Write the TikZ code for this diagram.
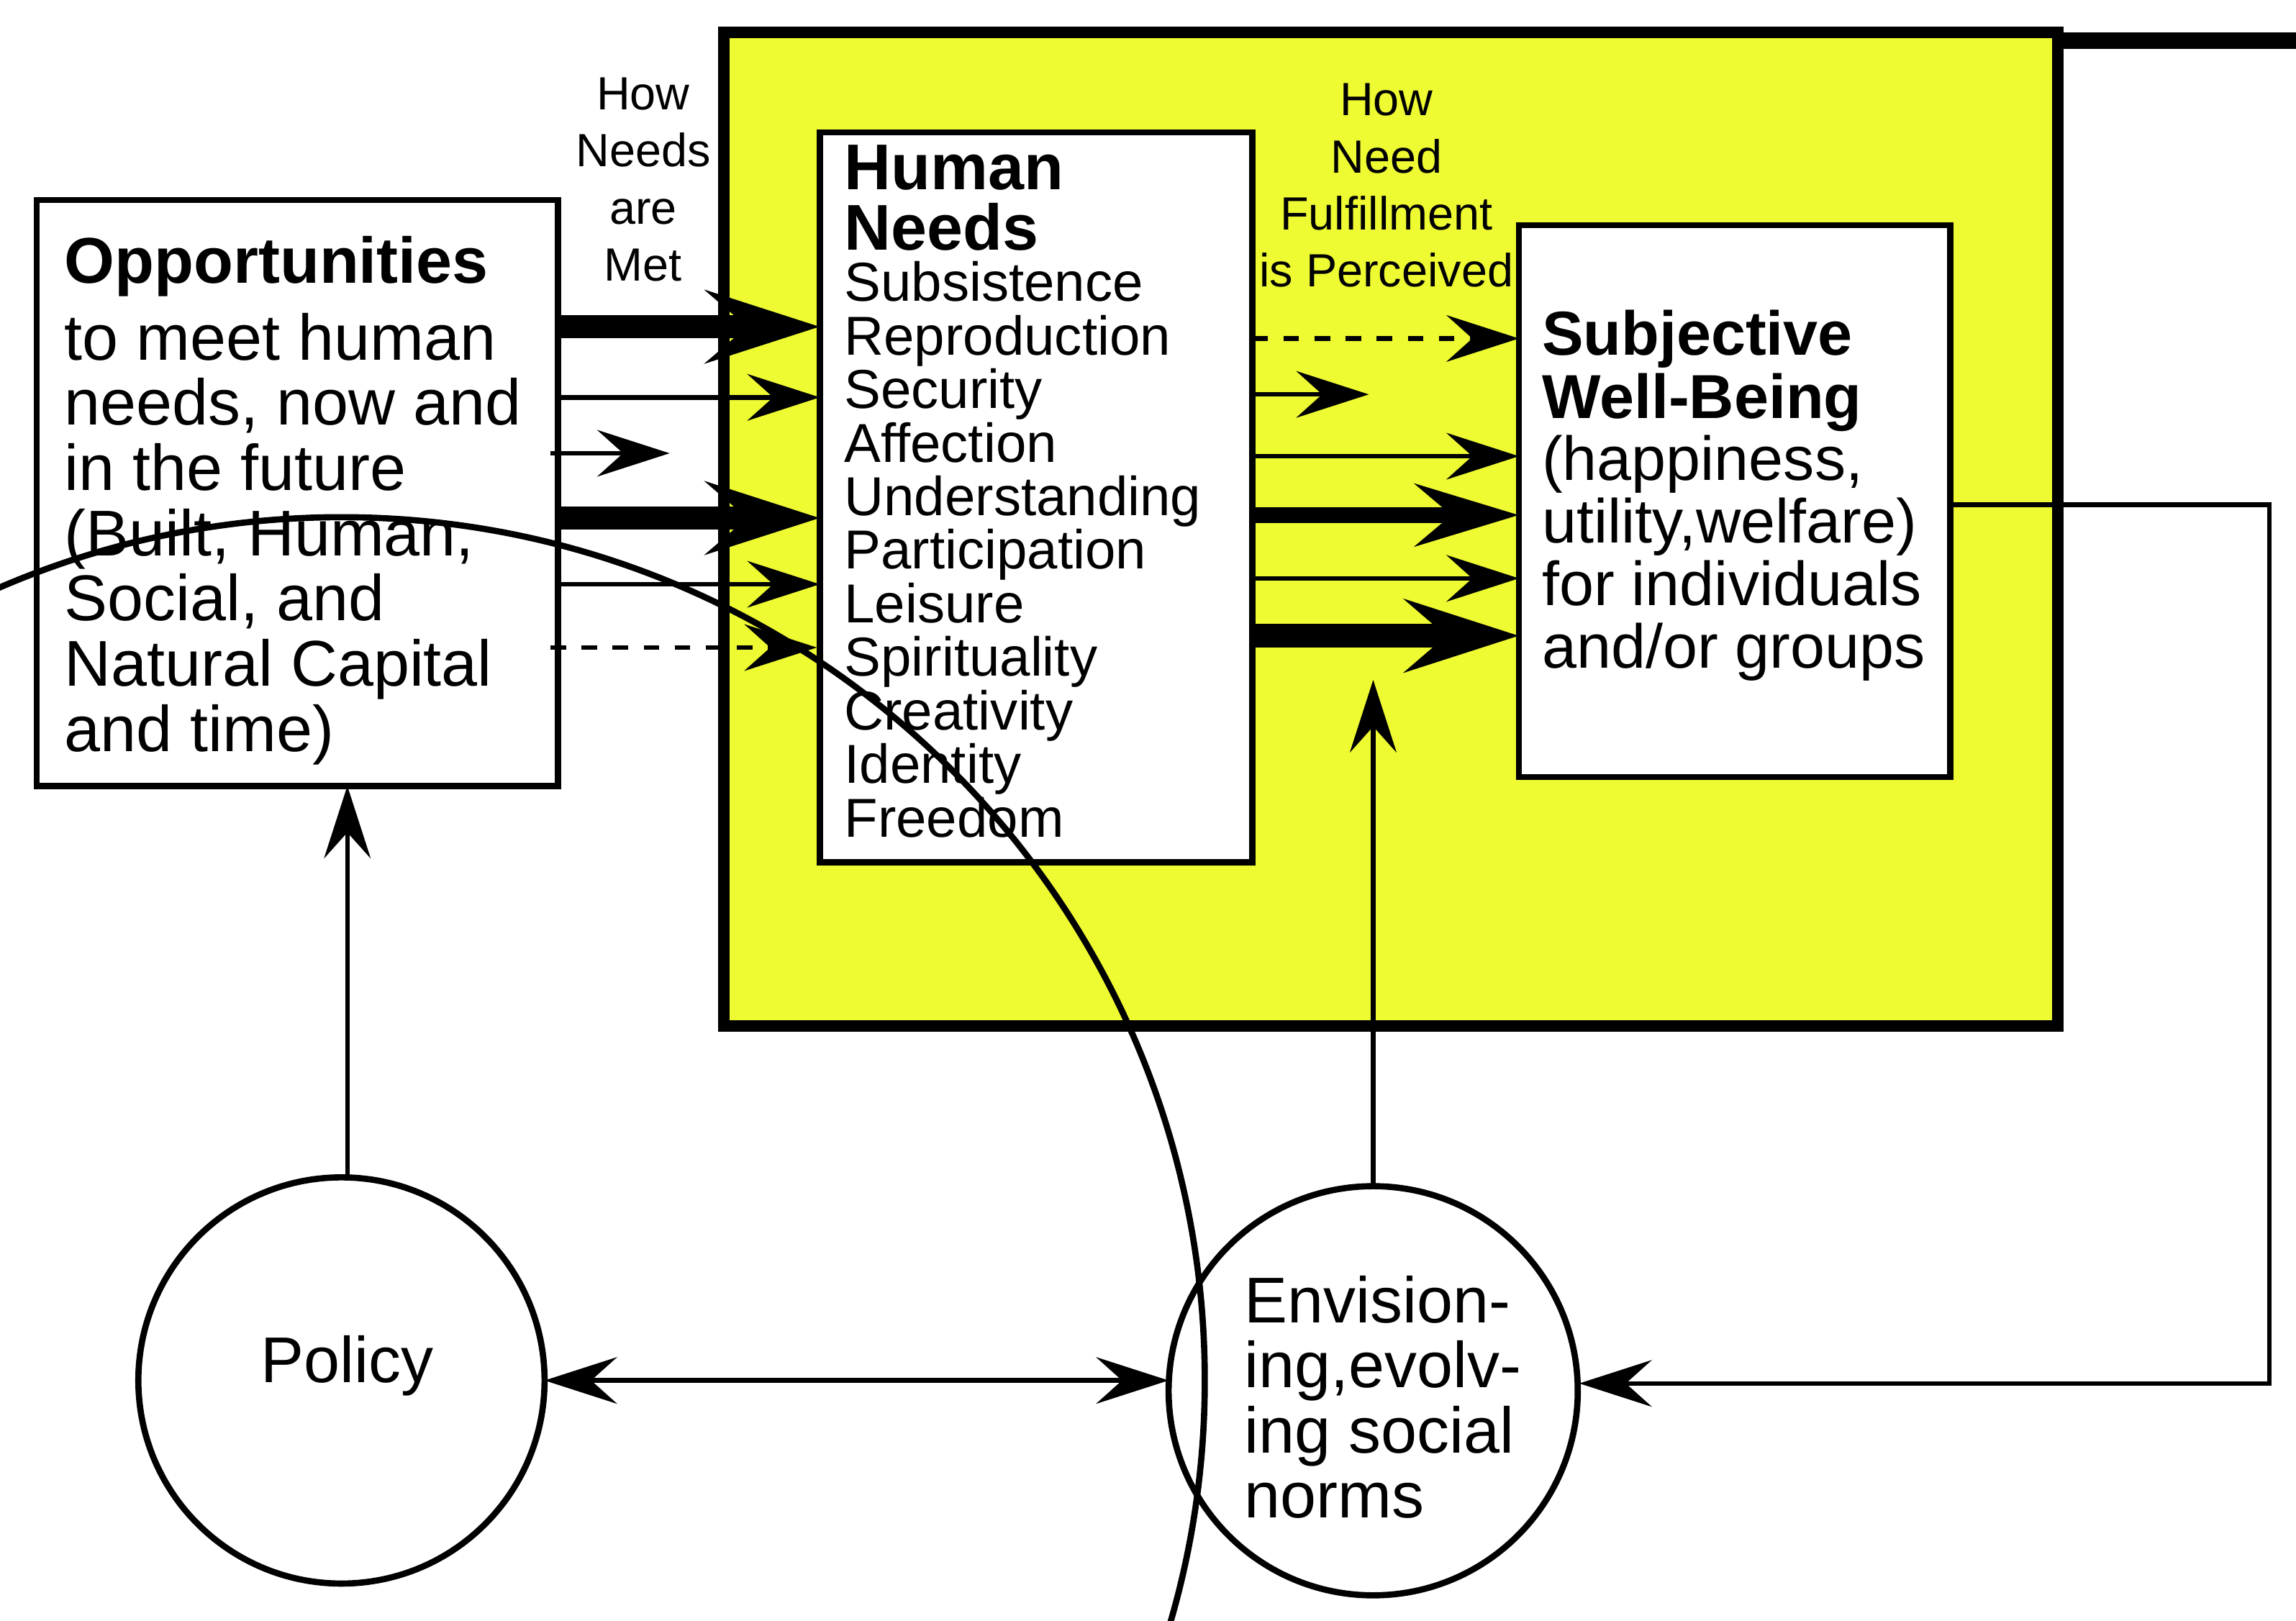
\documentclass[tikz,border=0pt]{standalone}
\usepackage{fontspec}
\setmainfont{Liberation Sans}
\usetikzlibrary{arrows.meta}
\definecolor{yel}{RGB}{238,250,50}
\begin{document}
\begin{tikzpicture}[x=0.01cm,y=-0.01cm,
  box/.style={draw,line width=1.2pt,fill=white},
  txt/.style={anchor=north west,inner sep=0pt,align=left},
  a/.style={-{Stealth[length=14pt,width=9pt,inset=5pt]},line width=0.9pt},
  ath/.style={-{Stealth[length=20pt,width=12pt,inset=7pt]},line width=3pt},
  avt/.style={-{Stealth[length=22pt,width=14pt,inset=8pt]},line width=4.5pt},
  lab/.style={align=center,font=\fontsize{9}{11}\selectfont,inner sep=0pt}]
\useasboundingbox (0,0) rectangle (1560,1101);
\fill[white] (0,0) rectangle (1560,1101);
\node[draw,line width=2.2pt,fill=yel,minimum width=906\pgflinewidth,anchor=north west,inner sep=0pt] (Y) at (492,22) {};
\draw[line width=2.2pt,fill=yel] (492,22) rectangle (1398,697);
\draw[box] (25,136) rectangle (379,534);
\draw[box] (557,90) rectangle (851,586);
\draw[box] (1032,153) rectangle (1325,528);
\node[txt,font=\fontsize{12.5}{15}\selectfont\bfseries] (op) at (43,160) {Opportunities};
\node[txt,font=\fontsize{12.5}{12.6}\selectfont] (opt) at (43,212) {to meet human\\needs, now and\\in the future\\(Built, Human,\\Social, and\\Natural Capital\\and time)};
\node[txt,font=\fontsize{12.5}{11.6}\selectfont\bfseries] (hn) at (573,98) {Human\\Needs};
\node[txt,font=\fontsize{10.6}{10.35}\selectfont] (hl) at (573,177) {Subsistence\\Reproduction\\Security\\Affection\\Understanding\\Participation\\Leisure\\Spirituality\\Creativity\\Identity\\Freedom};
\node[txt,font=\fontsize{12}{12.3}\selectfont\bfseries] (sw) at (1047,210) {Subjective\\Well-Being};
\node[txt,font=\fontsize{12}{12.1}\selectfont] (swt) at (1047,295) {(happiness,\\utility,welfare)\\for individuals\\and/or groups};
\node[lab] (l1) at (437,122) {How\\Needs\\are\\Met};
\node[lab] (l2) at (942,126) {How\\Need\\Fulfillment\\is Perceived};
\node[draw,line width=1.2pt,circle,minimum size=278\pgflinewidth,inner sep=0pt] (P) at (232,938) {};
\draw[line width=1.2pt] (232,938) circle (138);
\node[font=\fontsize{12.5}{15}\selectfont] at (236,928) {Policy};
\draw[line width=1.2pt] (933,945) circle (139);
\node[txt,font=\fontsize{12.5}{12.6}\selectfont] at (845,866) {Envision-\\ing,evolv-\\ing social\\norms};
% left arrows
\draw[avt] (379,222) -- (557,222);
\draw[a] (379,270) -- (557,270);
\draw[a] (374,308) -- (455,308);
\draw[avt] (379,352) -- (557,352);
\draw[a] (379,397) -- (557,397);
\draw[a,dashed] (374,440) -- (555,440);
% right arrows
\draw[a,dashed] (851,230) -- (1032,230);
\draw[a] (851,268) -- (930,268);
\draw[a] (851,310) -- (1032,310);
\draw[ath] (851,350) -- (1032,350);
\draw[a] (851,393) -- (1032,393);
\draw[avt] (851,432) -- (1032,432);
% vertical
\draw[a] (933,806) -- (933,462);
\draw[a] (236,800) -- (236,534);
\draw[{Stealth[length=14pt,width=9pt,inset=5pt]}-{Stealth[length=14pt,width=9pt,inset=5pt]},line width=0.9pt] (370,938) -- (794,938);
\draw[a] (1325,343) -- (1542,343) -- (1542,940) -- (1073,940);
\end{tikzpicture}
\end{document}
